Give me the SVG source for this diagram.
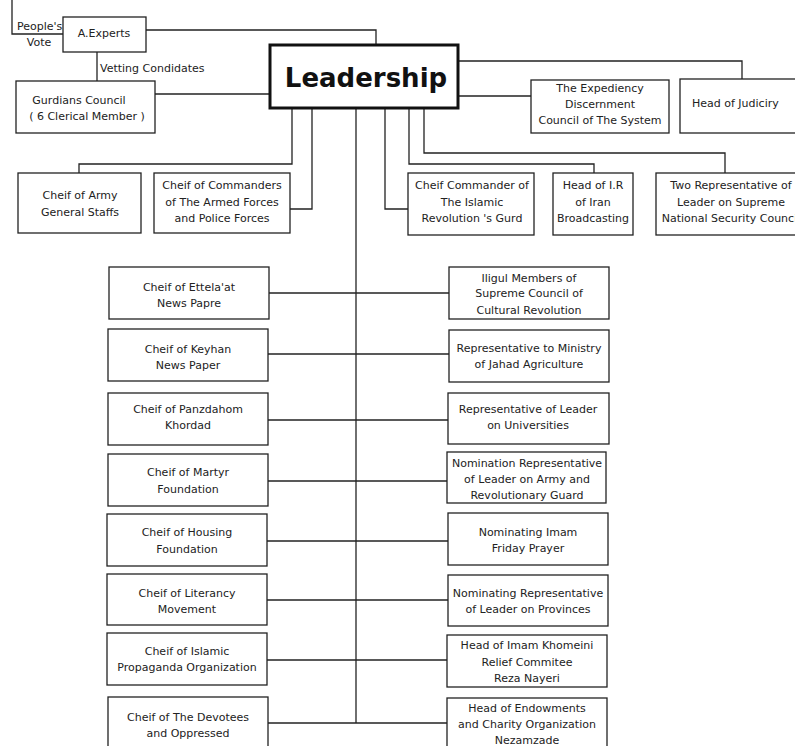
<svg xmlns="http://www.w3.org/2000/svg" width="795" height="746" viewBox="0 0 795 746">
<style>
.b{fill:#fff;stroke:#222;stroke-width:1.3}
.t{font-family:"DejaVu Sans",Verdana,sans-serif;font-size:11px;fill:#222;text-anchor:middle}
.s{text-anchor:start}
.c{fill:none;stroke:#222;stroke-width:1.3}
</style>
<rect width="795" height="746" fill="#fff"/>
<g id="connectors" class="c">
<path d="M12,0V34H63"/>
<path d="M146,30H376V45"/>
<path d="M97,52V81"/>
<path d="M155,94H269"/>
<path d="M458,61H742V79"/>
<path d="M458,96H531"/>
<path d="M292,108V164H79V173"/>
<path d="M312,108V209H290"/>
<path d="M385,108V209H408"/>
<path d="M409,108V164H594V173"/>
<path d="M424,108V153H725V173"/>
<path d="M356,108V723"/>
<path d="M269,293H449"/>
<path d="M268,354H449"/>
<path d="M268,420H448"/>
<path d="M268,481H447"/>
<path d="M267,541H448"/>
<path d="M267,600H448"/>
<path d="M267,660H447"/>
<path d="M268,723H447"/>
</g>
<g id="peoples-vote">
<text class="t s" x="17" y="30">People's</text>
<text class="t" x="39" y="46">Vote</text>
</g>
<g id="a-experts">
<rect class="b" x="63" y="17" width="83" height="35"/>
<text class="t" x="104" y="37">A.Experts</text>
</g>
<g id="vetting-label">
<text class="t s" x="100" y="72">Vetting Condidates</text>
</g>
<g id="gurdians">
<rect class="b" x="16" y="81" width="139" height="52"/>
<text class="t" x="79" y="104">Gurdians Council</text>
<text class="t" x="87" y="120">( 6 Clerical Member )</text>
</g>
<g id="leadership">
<rect x="270" y="45" width="188" height="63" fill="#fff" stroke="#111" stroke-width="3"/>
<text x="366" y="87" style="font-family:'DejaVu Sans',Verdana,sans-serif;font-size:26px;font-weight:bold;fill:#111;text-anchor:middle">Leadership</text>
</g>
<g id="expediency">
<rect class="b" x="531" y="80" width="138" height="53"/>
<text class="t" x="600" y="92">The Expediency</text>
<text class="t" x="600" y="108">Discernment</text>
<text class="t" x="600" y="124">Council of The System</text>
</g>
<g id="judiciary">
<rect class="b" x="680" y="79" width="130" height="54"/>
<text class="t s" x="692" y="107">Head of Judiciry</text>
</g>
<g id="army">
<rect class="b" x="18" y="173" width="123" height="60"/>
<text class="t" x="80" y="199">Cheif of Army</text>
<text class="t" x="80" y="216">General Staffs</text>
</g>
<g id="commanders">
<rect class="b" x="154" y="173" width="136" height="60"/>
<text class="t" x="222" y="189">Cheif of Commanders</text>
<text class="t" x="222" y="206">of The Armed Forces</text>
<text class="t" x="222" y="222">and Police Forces</text>
</g>
<g id="irgc">
<rect class="b" x="408" y="173" width="126" height="62"/>
<text class="t" x="472" y="189">Cheif Commander of</text>
<text class="t" x="472" y="206">The Islamic</text>
<text class="t" x="472" y="222">Revolution 's Gurd</text>
</g>
<g id="irib">
<rect class="b" x="553" y="173" width="80" height="62"/>
<text class="t" x="593" y="189">Head of I.R</text>
<text class="t" x="593" y="206">of Iran</text>
<text class="t" x="593" y="222">Broadcasting</text>
</g>
<g id="snsc">
<rect class="b" x="656" y="173" width="160" height="62"/>
<text class="t" x="731" y="189">Two Representative of</text>
<text class="t" x="731" y="206">Leader on Supreme</text>
<text class="t" x="731" y="222">National Security Council</text>
</g>
<g id="ettelaat">
<rect class="b" x="109" y="267" width="160" height="52"/>
<text class="t" x="189" y="291">Cheif of Ettela'at</text>
<text class="t" x="189" y="307">News Papre</text>
</g>
<g id="keyhan">
<rect class="b" x="108" y="329" width="160" height="52"/>
<text class="t" x="188" y="353">Cheif of Keyhan</text>
<text class="t" x="188" y="369">News Paper</text>
</g>
<g id="panzdahom">
<rect class="b" x="108" y="393" width="160" height="52"/>
<text class="t" x="188" y="413">Cheif of Panzdahom</text>
<text class="t" x="188" y="429">Khordad</text>
</g>
<g id="martyr">
<rect class="b" x="108" y="454" width="160" height="52"/>
<text class="t" x="188" y="476">Cheif of Martyr</text>
<text class="t" x="188" y="493">Foundation</text>
</g>
<g id="housing">
<rect class="b" x="107" y="514" width="160" height="52"/>
<text class="t" x="187" y="536">Cheif of Housing</text>
<text class="t" x="187" y="553">Foundation</text>
</g>
<g id="literacy">
<rect class="b" x="107" y="574" width="160" height="51"/>
<text class="t" x="187" y="597">Cheif of Literancy</text>
<text class="t" x="187" y="613">Movement</text>
</g>
<g id="propaganda">
<rect class="b" x="107" y="633" width="160" height="52"/>
<text class="t" x="187" y="655">Cheif of Islamic</text>
<text class="t" x="187" y="671">Propaganda Organization</text>
</g>
<g id="devotees">
<rect class="b" x="108" y="697" width="160" height="60"/>
<text class="t" x="188" y="721">Cheif of The Devotees</text>
<text class="t" x="188" y="737">and Oppressed</text>
</g>
<g id="cultural-revolution">
<rect class="b" x="449" y="267" width="160" height="52"/>
<text class="t" x="529" y="282">Iligul Members of</text>
<text class="t" x="529" y="297">Supreme Council of</text>
<text class="t" x="529" y="314">Cultural Revolution</text>
</g>
<g id="jahad">
<rect class="b" x="449" y="330" width="160" height="52"/>
<text class="t" x="529" y="352">Representative to Ministry</text>
<text class="t" x="529" y="368">of Jahad Agriculture</text>
</g>
<g id="universities">
<rect class="b" x="448" y="393" width="161" height="51"/>
<text class="t" x="528" y="413">Representative of Leader</text>
<text class="t" x="528" y="429">on Universities</text>
</g>
<g id="army-guard-rep">
<rect class="b" x="447" y="452" width="159" height="51"/>
<text class="t" x="527" y="467">Nomination Representative</text>
<text class="t" x="527" y="483">of Leader on Army and</text>
<text class="t" x="527" y="499">Revolutionary Guard</text>
</g>
<g id="friday-prayer">
<rect class="b" x="448" y="513" width="160" height="52"/>
<text class="t" x="528" y="536">Nominating Imam</text>
<text class="t" x="528" y="552">Friday Prayer</text>
</g>
<g id="provinces">
<rect class="b" x="448" y="575" width="160" height="51"/>
<text class="t" x="528" y="597">Nominating Representative</text>
<text class="t" x="528" y="613">of Leader on Provinces</text>
</g>
<g id="relief">
<rect class="b" x="447" y="635" width="160" height="52"/>
<text class="t" x="527" y="649">Head of Imam Khomeini</text>
<text class="t" x="527" y="666">Relief Commitee</text>
<text class="t" x="527" y="682">Reza Nayeri</text>
</g>
<g id="endowments">
<rect class="b" x="447" y="698" width="160" height="60"/>
<text class="t" x="527" y="712">Head of Endowments</text>
<text class="t" x="527" y="728">and Charity Organization</text>
<text class="t" x="527" y="744">Nezamzade</text>
</g>
</svg>
